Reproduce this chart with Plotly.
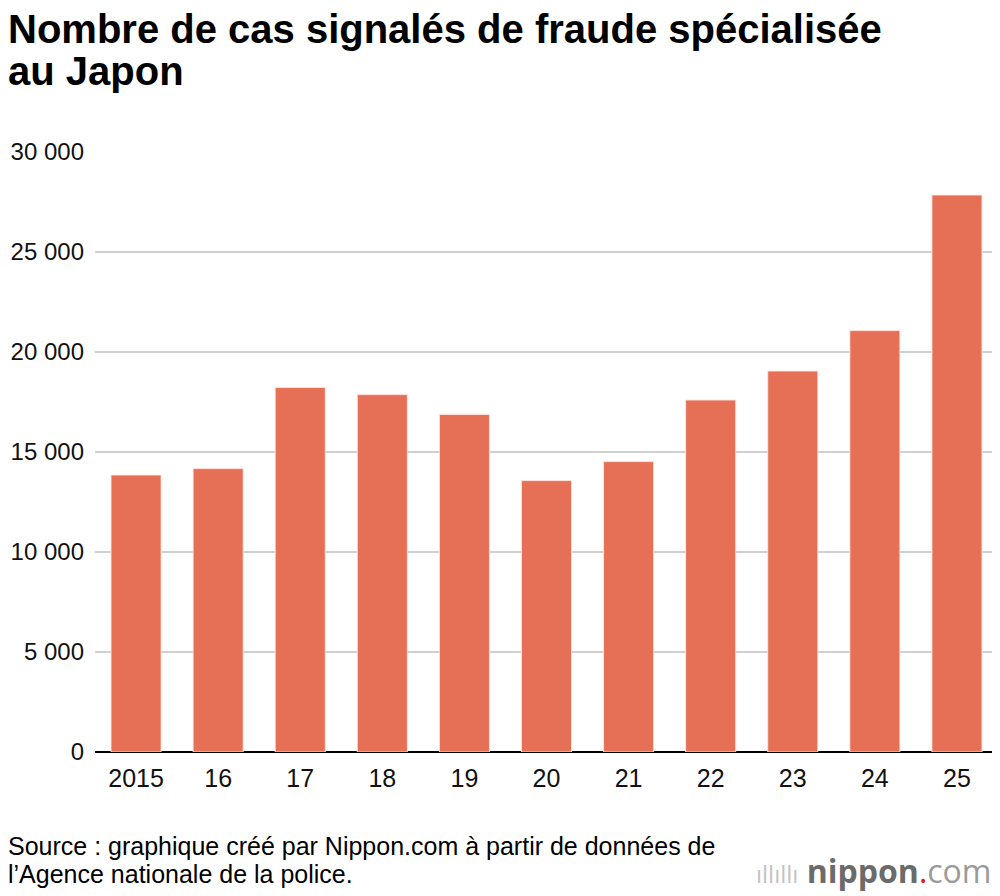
import plotly.graph_objects as go

# années (axe x) et nombre de cas signalés
annees = ["2015", "16", "17", "18", "19", "20", "21", "22", "23", "24", "25"]
cas = [13850, 14170, 18230, 17870, 16880, 13570, 14520, 17600, 19050, 21070, 27850]

y_ticks = [0, 5000, 10000, 15000, 20000, 25000, 30000]

titre_1 = "Nombre de cas signalés de fraude spécialisée"
titre_2 = "au Japon"
source_1 = "Source : graphique créé par Nippon.com à partir de données de"
source_2 = "l’Agence nationale de la police."

police = "Liberation Sans, Arial, Helvetica, sans-serif"

# la page ajoute 8 px de marge autour de la figure
W, H = 992, 888
L, R, T, B = 87, 2, 144, 144
pw = W - L - R
ph = H - T - B


def px_x(x):
    return (x - L) / pw


def px_y(y):
    return (H - B - y) / ph


fig = go.Figure()

fig.add_trace(go.Bar(
    x=annees,
    y=cas,
    marker=dict(color="#e57055", line=dict(color="rgba(255,230,225,0.9)", width=1)),
    hoverinfo="x+y",
))

fig.update_layout(
    width=W,
    height=H,
    margin=dict(l=L, r=R, t=T, b=B),
    paper_bgcolor="white",
    plot_bgcolor="white",
    font=dict(family=police, size=25, color="#111111"),
    separators=". ",
    bargap=0.39,
    showlegend=False,
    xaxis=dict(
        type="category",
        automargin=False,
        showgrid=False,
        showline=False,
        ticks="",
        ticklabelstandoff=9,
        tickfont=dict(size=25),
    ),
    yaxis=dict(
        range=[0, 30000],
        automargin=False,
        tickvals=y_ticks,
        tickformat=",d",
        showgrid=True,
        gridcolor="#d0d0d0",
        gridwidth=1.5,
        zeroline=True,
        zerolinecolor="black",
        zerolinewidth=2,
        showline=False,
        ticks="",
        ticklabelstandoff=10,
        tickfont=dict(size=24),
    ),
)

# titre sur deux lignes
for texte, y in [(titre_1, 21), (titre_2, 63)]:
    fig.add_annotation(
        text="<b>" + texte + "</b>",
        xref="paper", yref="paper",
        x=px_x(-2), y=px_y(y),
        xanchor="left", yanchor="middle",
        showarrow=False,
        font=dict(family=police, size=40, color="black"),
    )

# source
for texte, y in [(source_1, 838), (source_2, 866)]:
    fig.add_annotation(
        text=texte,
        xref="paper", yref="paper",
        x=px_x(-2), y=px_y(y),
        xanchor="left", yanchor="middle",
        showarrow=False,
        font=dict(family=police, size=25, color="black"),
    )

# logo nippon.com
fig.add_annotation(
    text=("<span style='color:#c4c4c4;font-size:24px'>ıllıllı</span> "
          "<b>nippon</b><span style='color:#e8141c'>.</span>"
          "<span style='color:#9a9a9a'>com</span>"),
    xref="paper", yref="paper",
    x=px_x(985), y=px_y(862),
    xanchor="right", yanchor="middle",
    showarrow=False,
    font=dict(family="Open Sans, DejaVu Sans, sans-serif", size=32, color="#6b6b6b"),
)

fig.write_html("out.html")
